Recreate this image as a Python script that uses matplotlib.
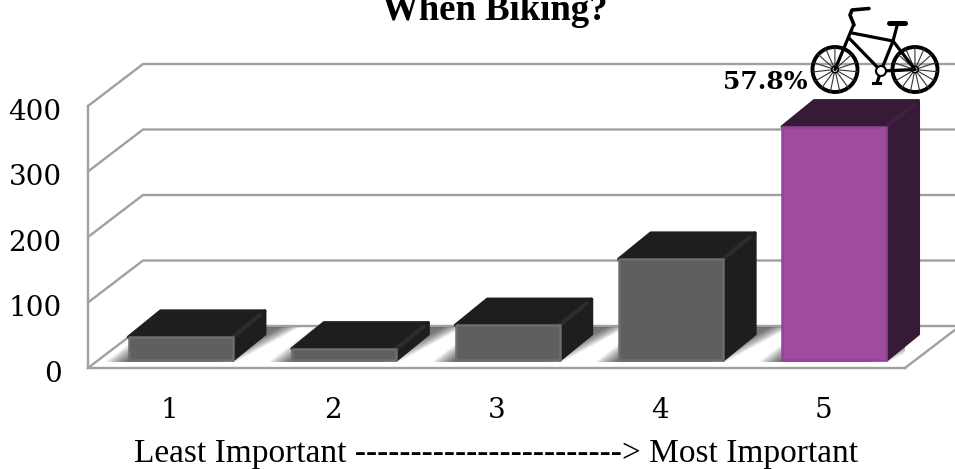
import numpy as np
import matplotlib
matplotlib.use("Agg")
import matplotlib.pyplot as plt
from matplotlib.patches import Polygon, Circle
from matplotlib.transforms import ScaledTranslation

categories = ["1", "2", "3", "4", "5"]
values = [35, 17, 53, 154, 356]
y_ticks = [0, 100, 200, 300, 400]
highlight_label = "57.8%"

W, H = 955, 469
SERIF = ["Liberation Serif", "DejaVu Serif"]
WIDE_SERIF = ["DejaVu Serif"]

# front plane of the fake 3D box, in pixels
LEFT, RIGHT, TOP, BOTTOM = 88, 905, 106, 368
PX_X = 5.0 / (RIGHT - LEFT)      # category units per pixel
PX_Y = 400.0 / (BOTTOM - TOP)    # value units per pixel

WALL_DX, WALL_DY = 55, 42        # depth of walls
BAR_DX, BAR_DY = 32, 26          # depth of bars
BAR_W = 104                      # bar width
BAR_SHIFT, BAR_LIFT = 11, 8      # bars sit a bit inside the floor


def off(x, y, dx=0, dy=0):
    """data position moved by screen pixels (dy up)"""
    return (x + dx * PX_X, y + dy * PX_Y)


fig = plt.figure(figsize=(W / 100, H / 100), dpi=100)
ax = fig.add_axes([LEFT / W, 1 - BOTTOM / H, (RIGHT - LEFT) / W, (BOTTOM - TOP) / H])
ax.set_xlim(0.5, 5.5)
ax.set_ylim(0, 400)
for s in ax.spines.values():
    s.set_visible(False)

# ── walls and floor ──
GRID = "#a0a0a0"
for v in y_ticks:
    p0 = off(0.5, v)
    p1 = off(0.5, v, WALL_DX, WALL_DY)
    p2 = off(0.5, v, W - LEFT, WALL_DY)
    ax.plot([p0[0], p1[0], p2[0]], [p0[1], p1[1], p2[1]], color=GRID, lw=1.7,
            clip_on=False, zorder=1, solid_joinstyle="miter")
ax.plot([0.5, 0.5], [0, 400], color=GRID, lw=1.7, clip_on=False, zorder=2)
ax.plot([0.5, 5.5], [0, 0], color=GRID, lw=1.7, clip_on=False, zorder=2)
p = off(5.5, 0, WALL_DX, WALL_DY)
ax.plot([5.5, p[0]], [0, p[1]], color=GRID, lw=1.7, clip_on=False, zorder=2)

# ── soft shadows on the floor ──
floor_band = Polygon([off(0.5, 0, 0, 6), off(5.5, 0, 0, 6),
                      off(5.5, 0, W - RIGHT, 41), off(0.5, 0, 50, 41)],
                     transform=ax.transData, fc="none", ec="none")
ax.add_patch(floor_band)

for i, v in enumerate(values):
    xc = i + 1
    xl = xc - BAR_W / 2 * PX_X + BAR_SHIFT * PX_X
    xr = xl + BAR_W * PX_X
    for k in range(14):
        grow = k * 1.5 - 10
        shadow = Polygon([off(xl, 0, -14 - grow, 6), off(xr, 0, -7 + grow, 6),
                          off(xr, 0, 58 + grow, 41), off(xl, 0, 32 - grow, 41)],
                         fc="black", ec="none", alpha=0.05, zorder=3, clip_on=True)
        ax.add_patch(shadow)
        shadow.set_clip_path(floor_band)

# ── bars ──
for i, v in enumerate(values):
    xc = i + 1
    xl = xc - BAR_W / 2 * PX_X + BAR_SHIFT * PX_X
    xr = xl + BAR_W * PX_X
    y0 = BAR_LIFT * PX_Y
    yt = v + y0
    hi = i == len(values) - 1
    c_front = "#9f4c9f" if hi else "#5f5f5f"
    c_edge = "#94449a" if hi else "#6d6d6d"
    c_dark = "#371a37" if hi else "#1e1e1e"
    c_glow = "#40203f" if hi else "#2c2c2c"

    top = [(xl, yt), (xr, yt), off(xr, yt, BAR_DX, BAR_DY), off(xl, yt, BAR_DX, BAR_DY)]
    side = [(xr, y0), off(xr, y0, BAR_DX, BAR_DY), off(xr, yt, BAR_DX, BAR_DY), (xr, yt)]
    front = [(xl, y0), (xr, y0), (xr, yt), (xl, yt)]
    ax.add_patch(Polygon(side, fc=c_dark, ec=c_dark, lw=2.5, joinstyle="round",
                         zorder=4, clip_on=False))
    ax.add_patch(Polygon(top, fc=c_dark, ec=c_dark, lw=2.5, joinstyle="round",
                         zorder=4, clip_on=False))
    gx, gy = off(xr, yt, BAR_DX * 0.85, BAR_DY * 0.85)
    ax.plot([xr, gx], [yt, gy], color=c_glow, lw=3, zorder=4.5, clip_on=False,
            solid_capstyle="round")
    ax.add_patch(Polygon(front, fc=c_front, ec=c_edge, lw=1.8, joinstyle="round",
                         zorder=5, clip_on=False))

# data label of the tall bar
lx, ly = off(5, values[-1] + BAR_LIFT * PX_Y, -100, 45)
ax.text(lx, ly, highlight_label, family=WIDE_SERIF, fontweight="bold", fontsize=18,
        ha="left", va="center", color="black", zorder=8, clip_on=False)

# ── axis labels ──
ax.set_xticks(range(1, 6))
ax.set_xticklabels(categories, family=WIDE_SERIF, fontsize=20)
ax.set_yticks(y_ticks)
ax.set_yticklabels([str(t) for t in y_ticks], family=WIDE_SERIF, fontsize=20)
ax.tick_params(axis="x", length=0, pad=21)
ax.tick_params(axis="y", length=0, pad=19)
down = ScaledTranslation(0, -3 / 100, fig.dpi_scale_trans)
for lbl in ax.get_yticklabels():
    lbl.set_transform(lbl.get_transform() + down)
ax.set_xlabel("Least Important ------------------------> Most Important",
              family=SERIF, fontsize=24, labelpad=10)
fig.text(495 / W, 1 - 20 / H, "When Biking?", family=SERIF, fontweight="bold",
         fontsize=26.5, ha="center", va="baseline")

# ── bicycle icon, drawn in screen pixels ──
deco = fig.add_axes([0, 0, 1, 1], facecolor="none")
deco.set_xlim(0, W)
deco.set_ylim(H, 0)
deco.axis("off")
for cx, cy, r in [(835, 69.5, 22.5), (915, 69.5, 22.5)]:
    deco.add_patch(Circle((cx, cy), r, fc="none", ec="black", lw=2.8, zorder=10))
    deco.add_patch(Circle((cx, cy), 3.2, fc="white", ec="black", lw=1.2, zorder=11))
    for a in np.deg2rad(np.arange(0, 360, 24)):
        deco.plot([cx, cx + r * np.cos(a + 0.1)], [cy, cy + r * np.sin(a + 0.1)],
                  color="#333333", lw=0.8, zorder=10)
bike_parts = [
    ([835, 853.5], [69.5, 25]),          # fork
    ([852, 893], [33, 41]),              # top tube
    ([849, 881], [38, 71]),              # down tube
    ([893, 881], [41, 71]),              # seat tube
    ([893, 897], [41, 26]),              # seat post
    ([881, 915], [71, 69.5]),            # chain stay
    ([893, 915], [41, 69.5]),            # seat stay
    ([881, 877], [71, 83]),              # crank
]
for xs, ys in bike_parts:
    deco.plot(xs, ys, color="black", lw=2.3, zorder=12, solid_capstyle="round")
deco.plot([854, 850, 852, 869], [25, 15, 10, 8.5], color="black", lw=2.6, zorder=12,
          solid_capstyle="round")
deco.plot([889, 905], [23.5, 23.5], color="black", lw=3.6, zorder=12, solid_capstyle="round")
deco.plot([873, 880], [83.5, 83.5], color="black", lw=2.2, zorder=12)
deco.add_patch(Circle((881, 71), 5, fc="white", ec="black", lw=1.5, zorder=12))

fig.savefig("out.png", dpi=100)
